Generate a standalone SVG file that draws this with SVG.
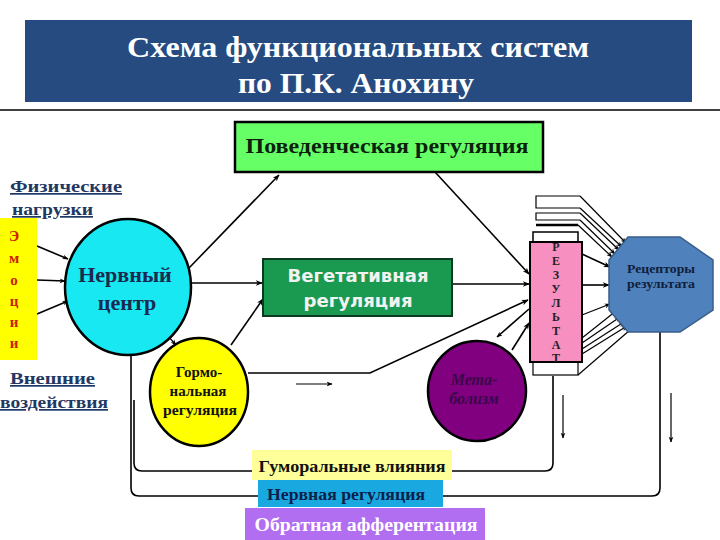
<svg xmlns="http://www.w3.org/2000/svg" width="720" height="540" viewBox="0 0 720 540">
<defs>
<marker id="arr" viewBox="0 0 10 10" refX="9" refY="5" markerWidth="7" markerHeight="7" orient="auto" markerUnits="userSpaceOnUse">
<path d="M0,1 L10,5 L0,9 L3,5 Z" fill="#000"/>
</marker>
<marker id="arrs" viewBox="0 0 10 10" refX="9" refY="5" markerWidth="6" markerHeight="6" orient="auto-start-reverse" markerUnits="userSpaceOnUse">
<path d="M0,1 L10,5 L0,9 L3,5 Z" fill="#000"/>
</marker>
</defs>
<style>
.serif{font-family:'Liberation Serif','DejaVu Serif',serif;font-weight:bold}
.sans{font-family:'DejaVu Sans','Liberation Sans',sans-serif;font-weight:bold}
.ln{stroke:#000;stroke-width:1.6;fill:none}
.thin{stroke:#000;stroke-width:1.2;fill:none}
.lbl{fill:#1f3864;font-size:17px;text-decoration:underline}
</style>
<rect width="720" height="540" fill="#fff"/>

<g id="header">
<rect x="25" y="20" width="667" height="82" fill="#264b80"/>
<text class="serif" x="358" y="57" font-size="30" fill="#fff" text-anchor="middle" textLength="462" lengthAdjust="spacingAndGlyphs">Схема функциональных систем</text>
<text class="serif" x="356" y="93" font-size="30" fill="#fff" text-anchor="middle" textLength="236" lengthAdjust="spacingAndGlyphs">по П.К. Анохину</text>
</g>
<line x1="0" y1="110" x2="720" y2="110" stroke="#000" stroke-width="1.5"/>

<g id="connectors">
<line class="ln" x1="189" y1="268" x2="279" y2="175" marker-end="url(#arr)"/>
<line class="ln" x1="435" y1="172" x2="529" y2="274" marker-end="url(#arr)"/>
<line class="ln" x1="191" y1="283" x2="262" y2="283" marker-end="url(#arr)"/>
<line class="ln" x1="231" y1="345" x2="263" y2="299" marker-end="url(#arr)"/>
<line class="ln" x1="452" y1="284" x2="529" y2="284" marker-end="url(#arr)"/>
<polyline class="ln" points="248,373 370,373 528,300" marker-end="url(#arr)"/>
<line class="thin" x1="296" y1="384" x2="332" y2="384" marker-end="url(#arrs)"/>
<line class="ln" x1="497" y1="337" x2="529" y2="309" marker-start="url(#arrs)"/>
<line class="ln" x1="512" y1="350" x2="529" y2="323" marker-end="url(#arr)"/>
<line class="thin" x1="167" y1="335" x2="176" y2="345" marker-end="url(#arrs)"/>
<line class="ln" x1="37" y1="246" x2="68" y2="259" marker-end="url(#arrs)"/>
<line class="ln" x1="37" y1="280" x2="65" y2="281" marker-end="url(#arrs)"/>
<line class="ln" x1="37" y1="314" x2="68" y2="301" marker-end="url(#arrs)"/>
<path class="thin" d="M580,196 H536 V208 H580"/>
<path class="thin" d="M580,213 H536 V220 H580"/>
<line x1="536" y1="225" x2="578" y2="225" stroke="#000" stroke-width="2.5"/>
<line class="thin" x1="580" y1="196" x2="626" y2="243" marker-end="url(#arrs)"/>
<line class="thin" x1="580" y1="208" x2="622" y2="247" marker-end="url(#arrs)"/>
<line class="thin" x1="580" y1="213" x2="619" y2="250" marker-end="url(#arrs)"/>
<line class="thin" x1="580" y1="220" x2="615" y2="254" marker-end="url(#arrs)"/>
<line class="thin" x1="578" y1="225" x2="612" y2="257" marker-end="url(#arrs)"/>
<line class="ln" x1="582" y1="254" x2="610" y2="267" marker-end="url(#arr)"/>
<line class="ln" x1="582" y1="285" x2="609" y2="285" marker-end="url(#arr)"/>
<line class="thin" x1="582" y1="315" x2="610" y2="304" marker-end="url(#arrs)"/>
<line class="thin" x1="582" y1="338" x2="616" y2="311" marker-end="url(#arrs)"/>
<line class="thin" x1="582" y1="343" x2="620" y2="317" marker-end="url(#arrs)"/>
<line class="thin" x1="582" y1="349" x2="624" y2="322" marker-end="url(#arrs)"/>
<line class="thin" x1="582" y1="354" x2="627" y2="326" marker-end="url(#arrs)"/>
<line class="thin" x1="578" y1="375" x2="630" y2="330"/>
<path class="ln" d="M134,400 V463 Q134,471 142,471 H545 Q553,471 553,463 V376"/>
<path class="ln" d="M131,356 V488 Q131,496 139,496 H652 Q660,496 660,488 V332"/>
<line class="thin" x1="563" y1="395" x2="563" y2="438" marker-end="url(#arrs)"/>
<line class="thin" x1="671" y1="393" x2="671" y2="442" marker-end="url(#arrs)"/>
</g>

<g id="behav">
<rect x="235" y="122" width="308" height="50" fill="#66ff66" stroke="#000" stroke-width="2.5"/>
<text class="serif" x="387" y="153" font-size="21" fill="#0d1f0d" text-anchor="middle" textLength="283" lengthAdjust="spacingAndGlyphs">Поведенческая регуляция</text>
</g>

<g id="phys">
<text class="serif lbl" x="10" y="192" textLength="112" lengthAdjust="spacingAndGlyphs">Физические</text>
<text class="serif lbl" x="12" y="215" textLength="81" lengthAdjust="spacingAndGlyphs">нагрузки</text>
</g>

<g id="emotions">
<rect x="0" y="218" width="37" height="142" fill="#ffff00"/>
<g class="serif" font-size="15" fill="#cc2200" text-anchor="middle">
<text x="14" y="241">Э</text>
<text x="14" y="263">м</text>
<text x="14" y="285">о</text>
<text x="14" y="306">ц</text>
<text x="14" y="327">и</text>
<text x="14" y="348">и</text>
</g>
</g>

<g id="external">
<text class="serif lbl" x="10" y="384" textLength="85" lengthAdjust="spacingAndGlyphs">Внешние</text>
<text class="serif lbl" x="0" y="408" textLength="108" lengthAdjust="spacingAndGlyphs">воздействия</text>
</g>

<g id="nerve">
<ellipse cx="128" cy="287" rx="63" ry="68" fill="#17e8f2" stroke="#000" stroke-width="2.5"/>
<text class="serif" x="125" y="282" font-size="22" fill="#1a2a50" text-anchor="middle">Нервный</text>
<text class="serif" x="127" y="310" font-size="22" fill="#1a2a50" text-anchor="middle">центр</text>
</g>

<g id="veget">
<rect x="263" y="259" width="189" height="57" fill="#1a9a50" stroke="#0c3a20" stroke-width="2"/>
<text class="sans" x="358" y="282" font-size="17" fill="#f2f2f2" text-anchor="middle" textLength="141" lengthAdjust="spacingAndGlyphs">Вегетативная</text>
<text class="sans" x="358" y="307" font-size="17" fill="#f2f2f2" text-anchor="middle" textLength="109" lengthAdjust="spacingAndGlyphs">регуляция</text>
</g>

<g id="hormone">
<ellipse cx="199" cy="392" rx="49" ry="54" fill="#ffff00" stroke="#000" stroke-width="2.5"/>
<text class="serif" x="199" y="377" font-size="15" fill="#111" text-anchor="middle">Гормо-</text>
<text class="serif" x="198" y="396" font-size="15" fill="#111" text-anchor="middle">нальная</text>
<text class="serif" x="200" y="415" font-size="15" fill="#111" text-anchor="middle" textLength="74" lengthAdjust="spacingAndGlyphs">регуляция</text>
</g>

<g id="metab">
<ellipse cx="477" cy="391" rx="49" ry="50" fill="#800080" stroke="#000" stroke-width="2.5"/>
<text class="serif" x="474" y="385" font-size="16" font-style="italic" fill="#3a0848" text-anchor="middle">Мета-</text>
<text class="serif" x="474" y="404" font-size="16" font-style="italic" fill="#3a0848" text-anchor="middle">болизм</text>
</g>

<g id="result">
<rect x="533" y="232" width="45" height="10" fill="#fff" stroke="#000" stroke-width="1.5"/>
<rect x="533" y="362" width="45" height="13" fill="#fff" stroke="#000" stroke-width="1.2"/>
<rect x="530" y="242" width="52" height="120" fill="#f78fc0" stroke="#000" stroke-width="2"/>
<g class="serif" font-size="12" fill="#222" text-anchor="middle">
<text x="556" y="251">Р</text>
<text x="556" y="265">Е</text>
<text x="556" y="279">З</text>
<text x="556" y="293">У</text>
<text x="556" y="307">Л</text>
<text x="556" y="321">Ь</text>
<text x="556" y="335">Т</text>
<text x="556" y="349">А</text>
<text x="556" y="362">Т</text>
</g>
</g>

<g id="receptors">
<polygon points="628,237 680,237 713,260 713,310 680,332 628,332 609,310 609,260" fill="#4f81bd" stroke="#385d8a" stroke-width="1.5"/>
<text class="serif" x="661" y="273" font-size="13" fill="#10203a" text-anchor="middle" textLength="68" lengthAdjust="spacingAndGlyphs">Рецепторы</text>
<text class="serif" x="661" y="288" font-size="13" fill="#10203a" text-anchor="middle" textLength="68" lengthAdjust="spacingAndGlyphs">результата</text>
</g>

<g id="humoral">
<rect x="252" y="450" width="200" height="30" fill="#ffff99"/>
<text class="serif" x="352" y="472" font-size="17" fill="#111" text-anchor="middle" textLength="187" lengthAdjust="spacingAndGlyphs">Гуморальные влияния</text>
</g>
<g id="nervreg">
<rect x="258" y="480" width="185" height="27" fill="#19a8e0"/>
<text class="serif" x="346" y="500" font-size="16" fill="#0d1f4a" text-anchor="middle" textLength="158" lengthAdjust="spacingAndGlyphs">Нервная регуляция</text>
</g>
<g id="feedback">
<rect x="245" y="508" width="240" height="32" fill="#b26ef0"/>
<text class="serif" x="366" y="531" font-size="18" fill="#fff" text-anchor="middle" textLength="223" lengthAdjust="spacingAndGlyphs">Обратная афферентация</text>
</g>
</svg>
